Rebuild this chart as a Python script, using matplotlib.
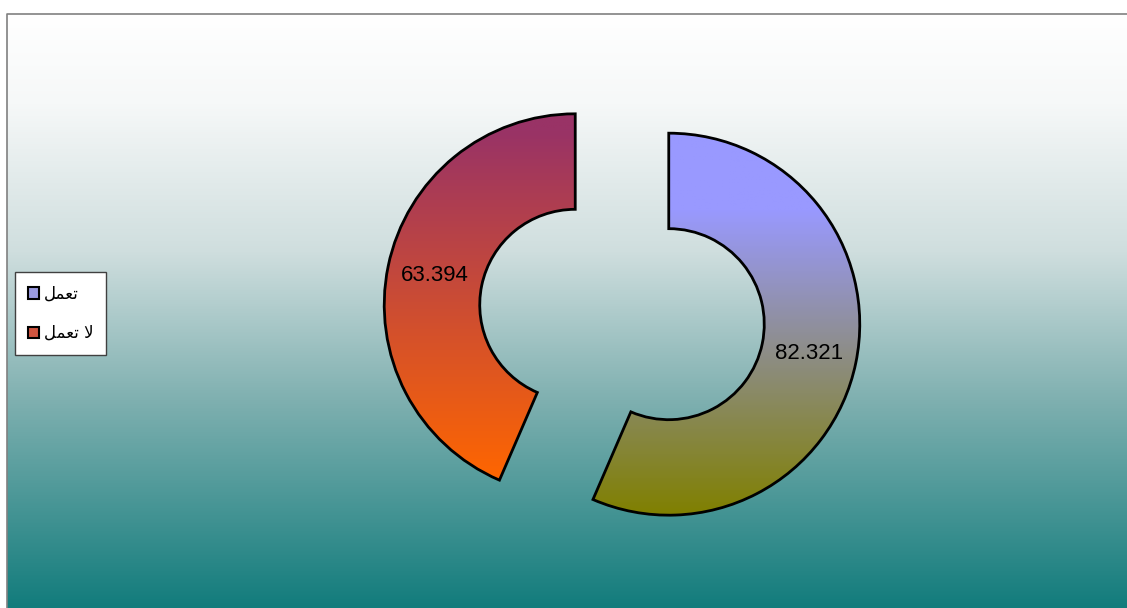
import numpy as np
import matplotlib
matplotlib.use('Agg')
import matplotlib.pyplot as plt
from matplotlib.colors import LinearSegmentedColormap, to_rgb
from matplotlib.patches import Rectangle

# data
labels = ['تعمل', 'لا تعمل']
values = [82.321, 63.394]
grad_top = ['#9999ff', '#993366']
grad_bottom = ['#808000', '#ff6600']

# matplotlib has no arabic shaping: map letters to presentation forms, visual order
shape_map = {
    'تعمل': '\ufede\ufee4\ufecc\ufe97',
    'لا تعمل': '\ufede\ufee4\ufecc\ufe97 \ufefb',
}

W, H = 1127, 608
fig = plt.figure(figsize=(W / 100, H / 100), dpi=100)

# background with gradient
bg = fig.add_axes([0, 0, 1, 1])
bg.set_xlim(0, W)
bg.set_ylim(H, 0)
bg.axis('off')
bg_cmap = LinearSegmentedColormap.from_list(
    'bg', [(0, '#ffffff'), (0.15, '#f6f8f8'), (0.4, '#cfdede'),
           (0.65, '#7fb0b0'), (1, '#127c7c')])
grad = np.linspace(0, 1, 256).reshape(-1, 1)
bg.imshow(grad, cmap=bg_cmap, extent=[7, W, H, 14], aspect='auto', zorder=0)
bg.plot([7, 7, W], [H, 14, 14], color='#808080', lw=1.2, zorder=1)

# doughnut
r_px = 191
cx, cy = 622, H - 314.5
side = 500
ax = fig.add_axes([(cx - side / 2) / W, (cy - side / 2) / H, side / W, side / H])
a = side / (2 * r_px)
total = sum(values)
wedges, texts, autotexts = ax.pie(
    values, explode=[0.25, 0.25], startangle=90, counterclock=False,
    colors=['#9090c8', '#c04848'],
    wedgeprops=dict(width=0.5, edgecolor='black', linewidth=2),
    autopct=lambda p: '%.3f' % (p * total / 100), pctdistance=0.75,
    textprops=dict(fontsize=16, family=['Liberation Sans', 'DejaVu Sans'], color='black'))
ax.set_xlim(-a, a)
ax.set_ylim(-a, a)
ax.set_aspect('equal')
ax.axis('off')

for w, c0, c1, hold in zip(wedges, grad_top, grad_bottom, [0.2, 0.05]):
    ext = w.get_path().get_extents()
    cm = LinearSegmentedColormap.from_list(
        'g', [(0, to_rgb(c0)), (hold, to_rgb(c0)), (1, to_rgb(c1))])
    im = ax.imshow(np.linspace(0, 1, 256).reshape(-1, 1), cmap=cm,
                   extent=[ext.x0, ext.x1, ext.y0, ext.y1], aspect='auto',
                   origin='upper', zorder=1.5)
    im.set_clip_path(w)
    w.set_zorder(2)
    w.set_facecolor('none')
for t in autotexts:
    t.set_zorder(3)

# legend
handles = [Rectangle((0, 0), 1, 1, facecolor=fc, edgecolor='black', lw=1.5)
           for fc in ['#9a9ae0', '#d05540']]
leg = fig.legend(handles, [shape_map[l] for l in labels],
                 loc='upper left', bbox_to_anchor=(15 / W, 1 - 272 / H),
                 frameon=True, fancybox=False, edgecolor='#404040',
                 facecolor='white', framealpha=1,
                 prop=dict(family='DejaVu Sans', size=12),
                 handlelength=0.7, handleheight=0.7, handletextpad=0.3,
                 labelspacing=1.3, borderpad=0.75, borderaxespad=0)
leg.get_frame().set_linewidth(1)

fig.savefig('out.png', dpi=100)
